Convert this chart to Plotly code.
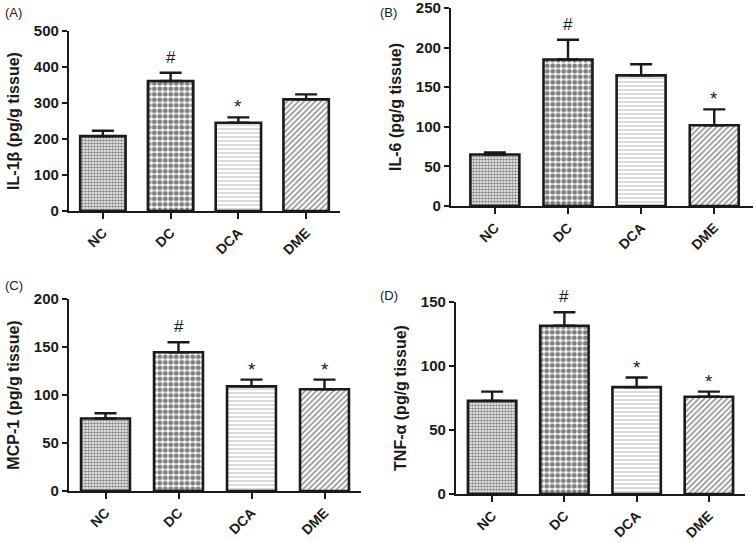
import plotly.graph_objects as go

groups = ["NC", "DC", "DCA", "DME"]

il1b_mean = [208, 361, 245, 310]
il1b_err = [15, 23, 15, 14]
il1b_sig = ["", "#", "*", ""]

il6_mean = [65, 185, 165, 102]
il6_err = [2.5, 25, 14, 20]
il6_sig = ["", "#", "", "*"]

mcp1_mean = [75.5, 144.5, 109, 106]
mcp1_err = [5.5, 10.5, 7, 10]
mcp1_sig = ["", "#", "*", "*"]

tnfa_mean = [72.8, 131.5, 83.5, 76]
tnfa_err = [7.2, 10.5, 7.5, 4]
tnfa_sig = ["", "#", "*", "*"]

titles = ["IL-1β (pg/g tissue)", "IL-6 (pg/g tissue)",
          "MCP-1 (pg/g tissue)", "TNF-α (pg/g tissue)"]
letters = ["(A)", "(B)", "(C)", "(D)"]
ymax = [500, 250, 200, 150]
dticks = [100, 50, 50, 50]

W, H = 755, 542
# pixel boxes of each plot area: x0, x1, ytop, ybottom
boxes = [(69, 340, 31, 211), (451, 753, 8, 206),
         (69, 361, 299, 491), (456, 745, 302, 494)]
xranges = [[-0.5, 3.5], [-0.6, 3.53], [-0.5, 3.5], [-0.5, 3.5]]
letter_pos = [(3, 12), (378, 12), (3, 285), (378, 295)]

# bar fill patterns for NC, DC, DCA, DME
patterns = [
    dict(shape=".", size=3, solidity=0.6, fgcolor="#111", bgcolor="white"),
    dict(shape=".", size=5.5, solidity=0.6, fgcolor="black", bgcolor="white"),
    dict(shape="-", size=4, solidity=0.3, fgcolor="#8a8a8a", bgcolor="white"),
    dict(shape="/", size=4, solidity=0.4, fgcolor="#222", bgcolor="white"),
]

font = "Liberation Sans, Arial, sans-serif"
data = [(il1b_mean, il1b_err, il1b_sig), (il6_mean, il6_err, il6_sig),
        (mcp1_mean, mcp1_err, mcp1_sig), (tnfa_mean, tnfa_err, tnfa_sig)]

fig = go.Figure()
annotations = []

for i, (mean, err, sig) in enumerate(data):
    sfx = "" if i == 0 else str(i + 1)
    x0, x1, yt, yb = boxes[i]

    for j, g in enumerate(groups):
        fig.add_trace(go.Bar(
            x=[g], y=[mean[j]],
            xaxis="x" + sfx, yaxis="y" + sfx,
            marker=dict(color="white", pattern=patterns[j],
                        line=dict(color="#1a1a1a", width=2.6)),
            error_y=dict(type="data", symmetric=False, array=[err[j]],
                         arrayminus=[0], color="#1a1a1a",
                         thickness=2.4, width=11),
            hoverinfo="skip", showlegend=False))

    for j, s in enumerate(sig):
        if s:
            annotations.append(dict(
                x=groups[j], y=mean[j] + err[j],
                xref="x" + sfx, yref="y" + sfx,
                text=s, showarrow=False, yanchor="bottom",
                yshift=4 if s == "#" else -2,
                font=dict(family=font, size=17 if s == "#" else 19,
                          color="#1a1a1a")))

    lx, ly = letter_pos[i]
    annotations.append(dict(
        x=lx / W, y=1 - ly / H, xref="paper", yref="paper",
        text=letters[i], showarrow=False, xanchor="left", yanchor="middle",
        font=dict(family=font, size=13, color="#1a1a1a")))

    fig.layout["xaxis" + sfx] = dict(
        domain=[x0 / W, x1 / W], anchor="y" + sfx, automargin=False,
        range=xranges[i], categoryorder="array", categoryarray=groups,
        showline=True, linecolor="#1a1a1a", linewidth=2.2,
        ticks="outside", ticklen=6, tickwidth=2, tickcolor="#1a1a1a",
        tickangle=-45, showgrid=False, zeroline=False,
        tickfont=dict(family=font, size=14, color="#1a1a1a", weight="bold"))
    fig.layout["yaxis" + sfx] = dict(
        domain=[1 - yb / H, 1 - yt / H], anchor="x" + sfx, automargin=False,
        range=[0, ymax[i] * 1.0001], tickmode="linear", tick0=0,
        dtick=dticks[i], ticklabeloverflow="allow",
        showline=True, linecolor="#1a1a1a", linewidth=2.2,
        ticks="outside", ticklen=5, tickwidth=2, tickcolor="#1a1a1a",
        showgrid=False, zeroline=False,
        tickfont=dict(family=font, size=15, color="#1a1a1a", weight="bold"),
        title=dict(text=titles[i], standoff=10,
                   font=dict(family=font, size=16, color="#1a1a1a",
                             weight="bold")))

fig.update_layout(
    width=W, height=H,
    margin=dict(l=0, r=0, t=0, b=0),
    plot_bgcolor="white", paper_bgcolor="white",
    bargap=0.33, barmode="overlay",
    annotations=annotations)

# drop the browser's default body margin so the figure fills the window
fig.write_html("out.html", config={"displayModeBar": False},
               post_script="document.body.style.margin = '0';")
